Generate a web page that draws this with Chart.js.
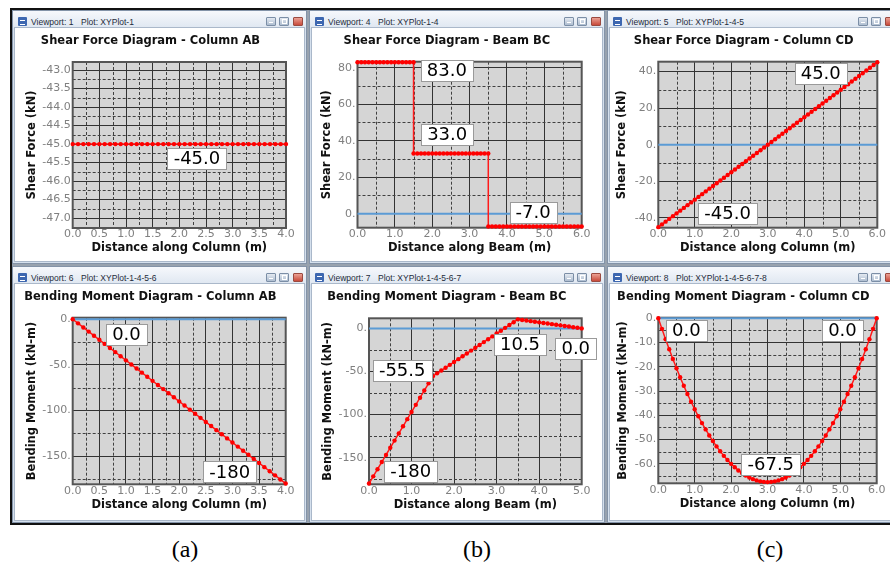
<!DOCTYPE html>
<html><head><meta charset="utf-8">
<script src="https://cdn.jsdelivr.net/npm/chart.js@4.4.1/dist/chart.umd.min.js"></script>
<style>
html,body{margin:0;padding:0;background:#fff;overflow:hidden;}
body{width:890px;height:567px;position:relative;}
#outer{position:absolute;left:10px;top:8px;width:895px;height:513px;border:2px solid #111;border-right:none;background:#98a2ae;}
.win{position:absolute;background:#d5e0ed;box-shadow:inset 0 0 0 1px #8393a8;}
.tbar{position:absolute;left:1px;right:1px;top:1px;height:17px;background:linear-gradient(#f6f8fc,#dfe7f1);}
.ttxt{position:absolute;top:7px;line-height:10px;font-family:"Liberation Sans",Arial,sans-serif;font-size:8.5px;color:#1e2b3a;white-space:nowrap;}
.content{position:absolute;left:3px;right:3px;top:18px;bottom:3px;background:#fff;box-shadow:0 0 0 1px #aab8ca;}
.ico{position:absolute;left:6px;top:7px;width:9px;height:9px;background:#3d67b0;border-radius:1px;}
.ico:after{content:"";position:absolute;left:2px;top:3px;width:5px;height:3px;border-top:1px solid #fff;border-bottom:1px solid #fff;}
.btn{position:absolute;top:7px;width:8px;height:7px;border:1px solid #7b8ea6;background:linear-gradient(#e3e9f1,#aebdd0);border-radius:1px;}
.btn.x{background:linear-gradient(#eba194,#c84a3b);border-color:#9b4a40;}
.btn.mn:after{content:"";position:absolute;left:2px;top:4px;width:4px;height:1px;background:#fff;}
.btn.mx:after{content:"";position:absolute;left:2px;top:1px;width:3px;height:3px;border:1px solid #fff;}
canvas{position:absolute;}
.cap{position:absolute;top:537px;line-height:24px;font-family:"Liberation Serif","Times New Roman",serif;font-size:24px;color:#000;transform:translateX(-50%);}
</style></head><body>
<div id="outer"></div>
<div id="wins"></div>
<div class="cap" style="left:185px">(a)</div>
<div class="cap" style="left:477px">(b)</div>
<div class="cap" style="left:770px">(c)</div>
<script>
// ---------------- DATA ----------------
const distCol4 = [0,0.1,0.2,0.3,0.4,0.5,0.6,0.7,0.8,0.9,1.0,1.1,1.2,1.3,1.4,1.5,1.6,1.7,1.8,1.9,2.0,2.1,2.2,2.3,2.4,2.5,2.6,2.7,2.8,2.9,3.0,3.1,3.2,3.3,3.4,3.5,3.6,3.7,3.8,3.9,4.0];
const distCol6 = [0,0.1,0.2,0.3,0.4,0.5,0.6,0.7,0.8,0.9,1.0,1.1,1.2,1.3,1.4,1.5,1.6,1.7,1.8,1.9,2.0,2.1,2.2,2.3,2.4,2.5,2.6,2.7,2.8,2.9,3.0,3.1,3.2,3.3,3.4,3.5,3.6,3.7,3.8,3.9,4.0,4.1,4.2,4.3,4.4,4.5,4.6,4.7,4.8,4.9,5.0,5.1,5.2,5.3,5.4,5.5,5.6,5.7,5.8,5.9,6.0];
const distBeam5 = [0,0.1,0.2,0.3,0.4,0.5,0.6,0.7,0.8,0.9,1.0,1.1,1.2,1.3,1.4,1.5,1.6,1.7,1.8,1.9,2.0,2.1,2.2,2.3,2.4,2.5,2.6,2.7,2.8,2.9,3.0,3.1,3.2,3.3,3.4,3.5,3.6,3.7,3.8,3.9,4.0,4.1,4.2,4.3,4.4,4.5,4.6,4.7,4.8,4.9,5.0];

const shearAB = [-45,-45,-45,-45,-45,-45,-45,-45,-45,-45,-45,-45,-45,-45,-45,-45,-45,-45,-45,-45,-45,-45,-45,-45,-45,-45,-45,-45,-45,-45,-45,-45,-45,-45,-45,-45,-45,-45,-45,-45,-45];

const beamShearX = [0,0.1,0.2,0.3,0.4,0.5,0.6,0.7,0.8,0.9,1.0,1.1,1.2,1.3,1.4,1.5,
  1.5,1.6,1.7,1.8,1.9,2.0,2.1,2.2,2.3,2.4,2.5,2.6,2.7,2.8,2.9,3.0,3.1,3.2,3.3,3.4,3.5,
  3.5,3.6,3.7,3.8,3.9,4.0,4.1,4.2,4.3,4.4,4.5,4.6,4.7,4.8,4.9,5.0,5.1,5.2,5.3,5.4,5.5,5.6,5.7,5.8,5.9,6.0];
const beamShearY = [83,83,83,83,83,83,83,83,83,83,83,83,83,83,83,83,
  33,33,33,33,33,33,33,33,33,33,33,33,33,33,33,33,33,33,33,33,33,
  -7,-7,-7,-7,-7,-7,-7,-7,-7,-7,-7,-7,-7,-7,-7,-7,-7,-7,-7,-7,-7,-7,-7,-7,-7,-7];

const shearCD = [-45,-43.5,-42,-40.5,-39,-37.5,-36,-34.5,-33,-31.5,-30,-28.5,-27,-25.5,-24,-22.5,-21,-19.5,-18,-16.5,-15,-13.5,-12,-10.5,-9,-7.5,-6,-4.5,-3,-1.5,0,1.5,3,4.5,6,7.5,9,10.5,12,13.5,15,16.5,18,19.5,21,22.5,24,25.5,27,28.5,30,31.5,33,34.5,36,37.5,39,40.5,42,43.5,45];

const momentAB = [0,-4.5,-9,-13.5,-18,-22.5,-27,-31.5,-36,-40.5,-45,-49.5,-54,-58.5,-63,-67.5,-72,-76.5,-81,-85.5,-90,-94.5,-99,-103.5,-108,-112.5,-117,-121.5,-126,-130.5,-135,-139.5,-144,-148.5,-153,-157.5,-162,-166.5,-171,-175.5,-180];

const momentBC = [-180,-171.7,-163.4,-155.1,-146.8,-138.5,-130.2,-121.9,-113.6,-105.3,-97,-88.7,-80.4,-72.1,-63.8,-55.5,
  -52.2,-48.9,-45.6,-42.3,-39,-35.7,-32.4,-29.1,-25.8,-22.5,-19.2,-15.9,-12.6,-9.3,-6,-2.7,0.6,3.9,7.2,10.5,
  9.8,9.1,8.4,7.7,7,6.3,5.6,4.9,4.2,3.5,2.8,2.1,1.4,0.7,0];

const momentCD = [0,-4.4,-8.7,-12.8,-16.8,-20.6,-24.3,-27.8,-31.2,-34.4,-37.5,-40.4,-43.2,-45.8,-48.3,-50.6,-52.8,-54.8,-56.7,-58.4,-60,-61.4,-62.7,-63.8,-64.8,-65.6,-66.3,-66.8,-67.2,-67.4,-67.5,
  -67.4,-67.2,-66.8,-66.3,-65.6,-64.8,-63.8,-62.7,-61.4,-60,-58.4,-56.7,-54.8,-52.8,-50.6,-48.3,-45.8,-43.2,-40.4,-37.5,-34.4,-31.2,-27.8,-24.3,-20.6,-16.8,-12.8,-8.7,-4.4,0];

const zeroLine = [0, 0];

// tick values and labels
const xTicksCol4 = [0,0.5,1,1.5,2,2.5,3,3.5,4];
const xLabelsCol4 = ['0.0','0.5','1.0','1.5','2.0','2.5','3.0','3.5','4.0'];
const xTicks6 = [0,1,2,3,4,5,6];
const xLabels6 = ['0.0','1.0','2.0','3.0','4.0','5.0','6.0'];
const xTicks5 = [0,1,2,3,4,5];
const xLabels5 = ['0.0','1.0','2.0','3.0','4.0','5.0'];
const yTicksAB = [-47,-46.5,-46,-45.5,-45,-44.5,-44,-43.5,-43];
const yLabelsAB = ['-47.0','-46.5','-46.0','-45.5','-45.0','-44.5','-44.0','-43.5','-43.0'];
const yTicksBC = [0,20,40,60,80];
const yLabelsBC = ['0.','20.','40.','60.','80.'];
const yTicksCD = [-40,-20,0,20,40];
const yLabelsCD = ['-40.','-20.','0.','20.','40.'];
const yTicksM = [-150,-100,-50,0];
const yLabelsM = ['-150.','-100.','-50.','0.'];
const yTicksMCD = [-60,-50,-40,-30,-20,-10,0];
const yLabelsMCD = ['-60.','-50.','-40.','-30.','-20.','-10.','0.'];

// callout texts
const calloutsP1 = ['-45.0'];
const calloutsP2 = ['83.0','33.0','-7.0'];
const calloutsP3 = ['45.0','-45.0'];
const calloutsP4 = ['0.0','-180'];
const calloutsP5 = ['-55.5','10.5','0.0','-180'];
const calloutsP6 = ['0.0','0.0','-67.5'];

// ---------------- WINDOWS ----------------
const wins = [
  {l:12, t:10, w:295, h:254, vp:'Viewport: 1', pl:'Plot: XYPlot-1'},
  {l:309,t:10, w:296, h:254, vp:'Viewport: 4', pl:'Plot: XYPlot-1-4'},
  {l:607,t:10, w:292, h:254, vp:'Viewport: 5', pl:'Plot: XYPlot-1-4-5'},
  {l:12, t:266,w:295, h:257, vp:'Viewport: 6', pl:'Plot: XYPlot-1-4-5-6'},
  {l:309,t:266,w:296, h:257, vp:'Viewport: 7', pl:'Plot: XYPlot-1-4-5-6-7'},
  {l:607,t:266,w:292, h:257, vp:'Viewport: 8', pl:'Plot: XYPlot-1-4-5-6-7-8'}
];
const wc = document.getElementById('wins');
wins.forEach(w => {
  const d = document.createElement('div');
  d.className = 'win';
  d.style.cssText = `left:${w.l}px;top:${w.t}px;width:${w.w}px;height:${w.h}px;`;
  d.innerHTML = `<div class="tbar"></div><div class="ico"></div>
    <div class="ttxt" style="left:19px">${w.vp}</div><div class="ttxt" style="left:69px">${w.pl}</div>
    <div class="btn mn" style="right:31px"></div><div class="btn mx" style="right:18px"></div><div class="btn x" style="right:4px"></div>
    <div class="content"></div>`;
  wc.appendChild(d);
});

// ---------------- CHARTS ----------------
Chart.defaults.font.family = '"DejaVu Sans", Verdana, sans-serif';

const panels = [
  {canvas:[15,28,289,233], plot:[72.7,62,286,228], titleY:41, yTitleX:31.7, xTitleY:248.3,
   title:'Shear Force Diagram - Column AB', xTitle:'Distance along Column (m)', yTitle:'Shear Force (kN)',
   xs:distCol4, ys:shearAB, xMin:0, xMax:4, yMin:-47.27, yMax:-42.78,
   xTicks:xTicksCol4, xLabels:xLabelsCol4, yTicks:yTicksAB, yLabels:yLabelsAB, xMinor:0.25, yMinor:0.25, zero:false,
   texts:calloutsP1, at:[[2.33,-45.38]]},
  {canvas:[312,28,290,233], plot:[357.5,61.7,581.7,227.7], titleY:41, yTitleX:326.7, xTitleY:248.3,
   title:'Shear Force Diagram - Beam BC', xTitle:'Distance along Beam (m)', yTitle:'Shear Force (kN)',
   xs:beamShearX, ys:beamShearY, xMin:0, xMax:6, yMin:-7.65, yMax:83.3,
   xTicks:xTicks6, xLabels:xLabels6, yTicks:yTicksBC, yLabels:yLabelsBC, xMinor:0.5, yMinor:10, zero:true,
   texts:calloutsP2, at:[[2.39,78.5],[2.40,43.4],[4.70,0.7]]},
  {canvas:[610,28,286,233], plot:[658.3,61.7,877.3,227.7], titleY:41, yTitleX:621.7, xTitleY:248.3,
   title:'Shear Force Diagram - Column CD', xTitle:'Distance along Column (m)', yTitle:'Shear Force (kN)',
   xs:distCol6, ys:shearCD, xMin:0, xMax:6, yMin:-45.3, yMax:45.3,
   xTicks:xTicks6, xLabels:xLabels6, yTicks:yTicksCD, yLabels:yLabelsCD, xMinor:0.5, yMinor:10, zero:true,
   texts:calloutsP3, at:[[4.45,39.1],[1.90,-37.7]]},
  {canvas:[15,284,289,236], plot:[72.7,317.7,285.7,484.3], titleY:297.3, yTitleX:31.7, xTitleY:505,
   title:'Bending Moment Diagram - Column AB', xTitle:'Distance along Column (m)', yTitle:'Bending Moment (kN-m)',
   xs:distCol4, ys:momentAB, xMin:0, xMax:4, yMin:-180.8, yMax:1.7,
   xTicks:xTicksCol4, xLabels:xLabelsCol4, yTicks:yTicksM, yLabels:yLabelsM, xMinor:0.25, yMinor:25, zero:true,
   texts:calloutsP4, at:[[1.01,-16.9],[2.95,-167.3]]},
  {canvas:[312,284,290,236], plot:[369,318.3,581.7,484.3], titleY:297.3, yTitleX:328.3, xTitleY:505,
   title:'Bending Moment Diagram - Beam BC', xTitle:'Distance along Beam (m)', yTitle:'Bending Moment (kN-m)',
   xs:distBeam5, ys:momentBC, xMin:0, xMax:5, yMin:-180.9, yMax:11.7,
   xTicks:xTicks5, xLabels:xLabels5, yTicks:yTicksM, yLabels:yLabelsM, xMinor:0.5, yMinor:25, zero:true,
   texts:calloutsP5, at:[[0.78,-48.6],[3.55,-18.5],[4.86,-23.7],[0.98,-166.0]]},
  {canvas:[610,284,286,236], plot:[658.3,317.7,876.7,483.3], titleY:297.3, yTitleX:622.7, xTitleY:504.3,
   title:'Bending Moment Diagram - Column CD', xTitle:'Distance along Column (m)', yTitle:'Bending Moment (kN-m)',
   xs:distCol6, ys:momentCD, xMin:0, xMax:6, yMin:-68, yMax:0.2,
   xTicks:xTicks6, xLabels:xLabels6, yTicks:yTicksMCD, yLabels:yLabelsMCD, xMinor:0.5, yMinor:5, zero:true,
   texts:calloutsP6, at:[[0.77,-4.9],[5.06,-4.9],[3.09,-60.25]]}
];

const decor = {
  id:'decor',
  beforeDraw(chart){
    const {ctx, chartArea:a} = chart;
    ctx.save(); ctx.fillStyle = '#d5d5d5';
    ctx.fillRect(a.left, a.top, a.right-a.left, a.bottom-a.top); ctx.restore();
  },
  beforeDatasetsDraw(chart, args, o){
    const {ctx, chartArea:a, scales} = chart;
    ctx.save();
    ctx.strokeStyle = '#404040'; ctx.lineWidth = 1; ctx.setLineDash([3,2]);
    const draw = (scale, step, majors, horiz) => {
      const k0 = Math.ceil(scale.min/step - 1e-9), k1 = Math.floor(scale.max/step + 1e-9);
      for (let k = k0; k <= k1; k++) {
        const v = k*step;
        if (majors.some(m => Math.abs(m - v) < 1e-9)) continue;
        const p = Math.round(scale.getPixelForValue(v)) + 0.5;
        ctx.beginPath();
        if (horiz) { ctx.moveTo(a.left, p); ctx.lineTo(a.right, p); }
        else { ctx.moveTo(p, a.top); ctx.lineTo(p, a.bottom); }
        ctx.stroke();
      }
    };
    draw(scales.x, o.xMinor, o.xMajor, false);
    draw(scales.y, o.yMinor, o.yMajor, true);
    ctx.setLineDash([]);
    ctx.strokeStyle = '#555'; ctx.lineWidth = 2;
    ctx.strokeRect(a.left, a.top, a.right-a.left, a.bottom-a.top);
    ctx.restore();
  },
  afterDatasetsDraw(chart, args, o){
    const {ctx, scales:{x, y}} = chart;
    ctx.save();
    ctx.font = '18px "DejaVu Sans", Verdana, sans-serif';
    ctx.textAlign = 'center'; ctx.textBaseline = 'middle';
    o.texts.forEach((t, i) => {
      const px = x.getPixelForValue(o.at[i][0]), py = y.getPixelForValue(o.at[i][1]);
      const w = Math.round(ctx.measureText(t).width + 12), h = 21;
      const l = Math.round(px - w/2) + 0.5, tp = Math.round(py - h/2) + 0.5;
      ctx.fillStyle = '#fff'; ctx.fillRect(l, tp, w, h);
      ctx.strokeStyle = '#9a9a9a'; ctx.lineWidth = 1; ctx.strokeRect(l, tp, w, h);
      ctx.fillStyle = '#000'; ctx.fillText(t, px, py + 1);
    });
    ctx.restore();
  }
};

panels.forEach(p => {
  const [cx, cy, cw, ch] = p.canvas;
  const [L, T, R, B] = p.plot;
  const cv = document.createElement('canvas');
  cv.width = cw; cv.height = ch;
  cv.style.cssText = `left:${cx}px;top:${cy}px;width:${cw}px;height:${ch}px;`;
  document.body.appendChild(cv);
  const tLH = 11.5*1.2;
  const yW = L - cx, xH = cy + ch - B, padR = cx + cw - R;
  const tTop = p.titleY - tLH/2 - cy, tBot = T - (p.titleY + tLH/2);
  const xTitlePad = cy + ch - p.xTitleY - tLH/2;
  const yTitlePad = p.yTitleX - cx - tLH/2;
  const datasets = [{
    data: p.xs.map((v, i) => ({x: v, y: p.ys[i]})),
    borderColor:'#ff1a1a', backgroundColor:'#ff0000', borderWidth:1.5,
    pointRadius:2.2, pointBorderWidth:0, pointBackgroundColor:'#ff0000',
    tension:0, clip:false
  }];
  if (p.zero) datasets.push({
    data: [{x:p.xMin, y:zeroLine[0]}, {x:p.xMax, y:zeroLine[1]}],
    borderColor:'#5b9bd5', borderWidth:2, pointRadius:0, clip:false
  });
  new Chart(cv, {
    type:'line',
    data:{datasets},
    plugins:[decor],
    options:{
      responsive:false, animation:false, devicePixelRatio:1,
      layout:{padding:{left:0, top:0, right:padR, bottom:0}},
      plugins:{
        legend:{display:false}, tooltip:{enabled:false},
        title:{display:true, text:p.title, color:'#111', font:{size:11.5, weight:'bold', lineHeight:1.2},
               padding:{top:tTop, bottom:tBot}},
        decor:{xMinor:p.xMinor, yMinor:p.yMinor, xMajor:p.xTicks, yMajor:p.yTicks, texts:p.texts, at:p.at}
      },
      scales:{
        x:{type:'linear', min:p.xMin, max:p.xMax, bounds:'data',
          afterBuildTicks:s => { s.ticks = p.xTicks.map(v => ({value:v})); },
          afterFit:s => { s.height = xH; },
          ticks:{autoSkip:false, maxRotation:0, padding:0, color:'#808080', font:{size:11},
                 callback:(v, i) => p.xLabels[i]},
          grid:{color:'#333333', lineWidth:1, drawTicks:false},
          border:{display:false},
          title:{display:true, text:p.xTitle, color:'#111', font:{size:11.5, weight:'bold', lineHeight:1.2},
                 padding:{top:0, bottom:xTitlePad}}
        },
        y:{type:'linear', min:p.yMin, max:p.yMax, bounds:'data',
          afterBuildTicks:s => { s.ticks = p.yTicks.map(v => ({value:v})); },
          afterFit:s => { s.width = yW; },
          ticks:{autoSkip:false, padding:2, color:'#808080', font:{size:11},
                 callback:(v, i) => p.yLabels[i]},
          grid:{color:'#333333', lineWidth:1, drawTicks:false},
          border:{display:false},
          title:{display:true, text:p.yTitle, color:'#111', font:{size:11.5, weight:'bold', lineHeight:1.2},
                 padding:{top:yTitlePad, bottom:0}}
        }
      }
    }
  });
});
</script>
</body></html>
